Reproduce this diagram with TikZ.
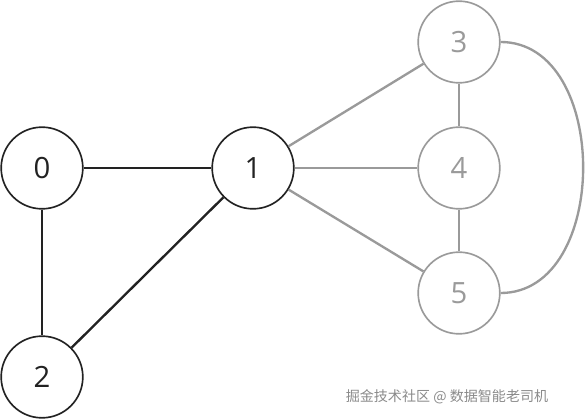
\documentclass[tikz,border=0pt]{standalone}
\usepackage{fontspec}
\setmainfont{Open Sans}
\newfontfamily\cjk{Noto Sans CJK SC}
\usetikzlibrary{calc}
\definecolor{ink}{HTML}{222222}
\definecolor{faded}{HTML}{9A9A9A}
\definecolor{mark}{HTML}{8A8A8A}
\tikzset{
  vertex/.style={circle,draw=ink,fill=white,line width=1.4pt,minimum size=2.45cm,inner sep=0pt,font=\fontsize{25}{30}\selectfont,text=ink},
  fadedvertex/.style={vertex,draw=faded,text=faded},
  edge/.style={line width=2pt,color=ink},
  fadededge/.style={line width=2pt,color=faded},
}

\begin{document}
\begin{tikzpicture}[x=0.3mm,y=-0.3mm]
  \useasboundingbox (0,0) rectangle (586,419);
  \node[vertex] (v0) at (42,168) {0};
  \node[vertex] (v1) at (253,168) {1};
  \node[vertex] (v2) at (42,377) {2};
  \node[fadedvertex] (v3) at (459,42) {3};
  \node[fadedvertex] (v4) at (459,168) {4};
  \node[fadedvertex] (v5) at (459,293) {5};

  \draw[edge] (v0)--(v1);
  \draw[edge] (v0)--(v2);
  \draw[edge] (v1)--(v2);
  \draw[fadededge] (v1)--(v3);
  \draw[fadededge] (v1)--(v4);
  \draw[fadededge] (v1)--(v5);
  \draw[fadededge] (v3)--(v4);
  \draw[fadededge] (v4)--(v5);
  \draw[fadededge] (v3.east) .. controls ($(v3.east)+(110,0)$) and ($(v5.east)+(110,0)$) .. (v5.east);

  \node[font=\cjk\fontsize{12}{14}\selectfont,text=mark] (credit) at (447,397) {掘金技术社区 @ 数据智能老司机};
\end{tikzpicture}
\end{document}
